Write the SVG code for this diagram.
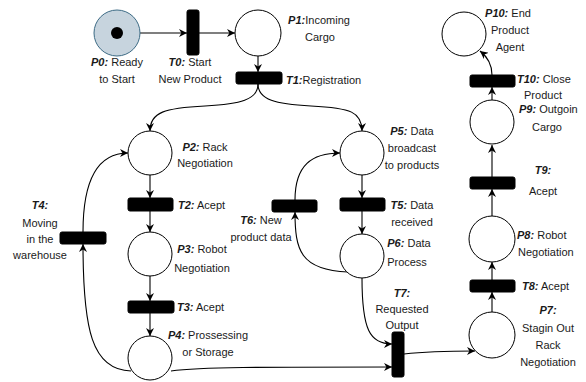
<svg xmlns="http://www.w3.org/2000/svg" width="586" height="382" viewBox="0 0 586 382">
<defs>
<marker id="arr" viewBox="0 0 10 10" refX="10" refY="5" markerWidth="9" markerHeight="8" markerUnits="userSpaceOnUse" orient="auto">
<path d="M0,0 L10,5 L0,10 L3,5 Z" fill="#000"/>
</marker>
</defs>
<style>
.pl{fill:#fff;stroke:#000;stroke-width:1}
.tr{fill:#000;stroke:#000;stroke-width:1}
.c{fill:none;stroke:#000;stroke-width:1.1;marker-end:url(#arr)}
text{font-family:"Liberation Sans",Arial,sans-serif;font-size:11px;fill:#1a1a1a}
.b{font-weight:bold;font-style:italic}
.m{text-anchor:middle}
</style>
<rect width="586" height="382" fill="#fff"/>
<g id="connectors">
<path class="c" d="M140,33 L187,33"/>
<path class="c" d="M199,33 L235,33"/>
<path class="c" d="M258,56 L258,72"/>
<path class="c" d="M258,84 C258,100 240,104 205,106 C165,108 150,112 150,131"/>
<path class="c" d="M258,84 C258,100 276,104 311,106 C351,108 362,112 362,131"/>
<path class="c" d="M150,175 L150,198"/>
<path class="c" d="M150,211 L150,232"/>
<path class="c" d="M150,276 L150,301"/>
<path class="c" d="M150,313 L150,336"/>
<path class="c" d="M131,371 C92,370 83,330 83,244"/>
<path class="c" d="M83,232 C83,175 100,153 128,153"/>
<path class="c" d="M171,371 C200,367 260,367 392,367"/>
<path class="c" d="M362,175 L362,198"/>
<path class="c" d="M362,211 L362,234"/>
<path class="c" d="M348,272 C300,270 295,250 295,212"/>
<path class="c" d="M295,200 C295,165 312,153 340,153"/>
<path class="c" d="M362,278 C362,330 370,344 392,344"/>
<path class="c" d="M404,354 C430,351 450,351 475,351"/>
<path class="c" d="M492,312 L492,292"/>
<path class="c" d="M492,280 L492,262"/>
<path class="c" d="M492,216 L492,189"/>
<path class="c" d="M492,177 L492,145"/>
<path class="c" d="M492,100 L492,87"/>
<path class="c" d="M492,75 C492,66 489,58 480,51"/>
</g>
<g id="P0">
<circle cx="117" cy="33" r="23" fill="#c7d4de" stroke="#3d6b85" stroke-width="1"/>
<circle cx="117" cy="33" r="6" fill="#000"/>
<text x="117" y="66" class="m"><tspan class="b">P0:</tspan> Ready</text>
<text x="117" y="83" class="m">to Start</text>
</g>
<g id="T0">
<rect class="tr" x="187" y="10" width="12" height="45" rx="2"/>
<text x="190" y="66" class="m"><tspan class="b">T0:</tspan> Start</text>
<text x="190" y="83" class="m">New Product</text>
</g>
<g id="P1">
<circle class="pl" cx="258" cy="33" r="23"/>
<text x="319" y="24" class="m"><tspan class="b">P1:</tspan>Incoming</text>
<text x="320" y="41" class="m">Cargo</text>
</g>
<g id="T1">
<rect class="tr" x="236" y="72" width="46" height="12" rx="2"/>
<text x="286" y="84"><tspan class="b">T1:</tspan>Registration</text>
</g>
<g id="P2">
<circle class="pl" cx="150" cy="153" r="22"/>
<text x="205" y="151" class="m"><tspan class="b">P2:</tspan> Rack</text>
<text x="205" y="167" class="m">Negotiation</text>
</g>
<g id="T2">
<rect class="tr" x="128" y="198" width="45" height="13" rx="2"/>
<text x="178" y="209"><tspan class="b">T2:</tspan> Acept</text>
</g>
<g id="P3">
<circle class="pl" cx="150" cy="254" r="22"/>
<text x="202" y="253" class="m"><tspan class="b">P3:</tspan> Robot</text>
<text x="202" y="272" class="m">Negotiation</text>
</g>
<g id="T3">
<rect class="tr" x="128" y="301" width="46" height="12" rx="2"/>
<text x="177" y="311"><tspan class="b">T3:</tspan> Acept</text>
</g>
<g id="P4">
<circle class="pl" cx="150" cy="358" r="22"/>
<text x="208" y="339" class="m"><tspan class="b">P4:</tspan> Prossessing</text>
<text x="208" y="356" class="m">or Storage</text>
</g>
<g id="T4">
<rect class="tr" x="60" y="232" width="46" height="12" rx="2"/>
<text x="40" y="209" class="m b">T4:</text>
<text x="40" y="227" class="m">Moving</text>
<text x="40" y="243" class="m">in the</text>
<text x="40" y="259" class="m">warehouse</text>
</g>
<g id="P5">
<circle class="pl" cx="362" cy="153" r="22"/>
<text x="412" y="135" class="m"><tspan class="b">P5:</tspan> Data</text>
<text x="412" y="152" class="m">broadcast</text>
<text x="412" y="169" class="m">to products</text>
</g>
<g id="T5">
<rect class="tr" x="340" y="198" width="45" height="13" rx="2"/>
<text x="412" y="209" class="m"><tspan class="b">T5:</tspan> Data</text>
<text x="412" y="226" class="m">received</text>
</g>
<g id="P6">
<circle class="pl" cx="362" cy="256" r="22"/>
<text x="409" y="247" class="m"><tspan class="b">P6:</tspan> Data</text>
<text x="407" y="266" class="m">Process</text>
</g>
<g id="T6">
<rect class="tr" x="272" y="200" width="45" height="12" rx="2"/>
<text x="261" y="224" class="m"><tspan class="b">T6:</tspan> New</text>
<text x="261" y="241" class="m">product data</text>
</g>
<g id="T7">
<rect class="tr" x="392" y="332" width="12" height="45" rx="2"/>
<text x="402" y="297" class="m b">T7:</text>
<text x="402" y="313" class="m">Requested</text>
<text x="402" y="329" class="m">Output</text>
</g>
<g id="P7">
<circle class="pl" cx="492" cy="335" r="23"/>
<text x="548" y="314" class="m b">P7:</text>
<text x="548" y="332" class="m">Stagin Out</text>
<text x="548" y="349" class="m">Rack</text>
<text x="548" y="366" class="m">Negotiation</text>
</g>
<g id="T8">
<rect class="tr" x="470" y="280" width="45" height="12" rx="2"/>
<text x="522" y="290"><tspan class="b">T8:</tspan> Acept</text>
</g>
<g id="P8">
<circle class="pl" cx="492" cy="239" r="23"/>
<text x="517" y="239"><tspan class="b">P8:</tspan> Robot</text>
<text x="518" y="256">Negotiation</text>
</g>
<g id="T9">
<rect class="tr" x="470" y="177" width="45" height="12" rx="2"/>
<text x="543" y="174" class="m b">T9:</text>
<text x="543" y="195" class="m">Acept</text>
</g>
<g id="P9">
<circle class="pl" cx="492" cy="122" r="22"/>
<text x="519" y="113"><tspan class="b">P9:</tspan> Outgoin</text>
<text x="547" y="131" class="m">Cargo</text>
</g>
<g id="T10">
<rect class="tr" x="470" y="75" width="45" height="12" rx="2"/>
<text x="517" y="83"><tspan class="b">T10:</tspan> Close</text>
<text x="543" y="99" class="m">Product</text>
</g>
<g id="P10">
<circle class="pl" cx="464" cy="34" r="22"/>
<text x="508" y="17" class="m"><tspan class="b">P10:</tspan> End</text>
<text x="510" y="34" class="m">Product</text>
<text x="510" y="51" class="m">Agent</text>
</g>
</svg>
